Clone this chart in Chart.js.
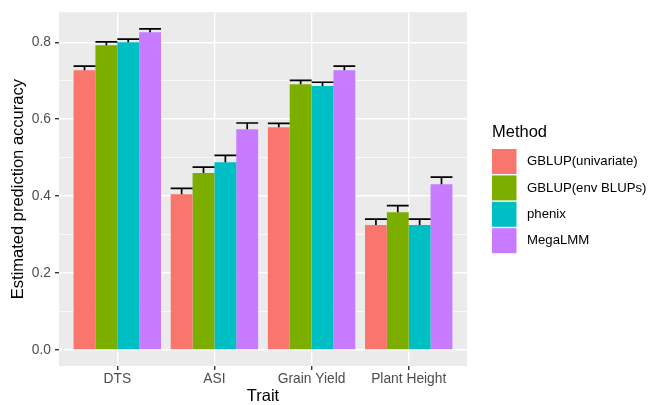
<!DOCTYPE html>
<html>
<head>
<meta charset="utf-8">
<script src="https://cdn.jsdelivr.net/npm/chart.js@4"></script>
<style>
  html, body { margin: 0; padding: 0; background: #fff; }
  #wrap { width: 652px; height: 405px; }
</style>
</head>
<body>
<div id="wrap"><canvas id="accChart" width="652" height="405"></canvas></div>
<script>
const traits = ['DTS', 'ASI', 'Grain Yield', 'Plant Height'];
const methods = ['GBLUP(univariate)', 'GBLUP(env BLUPs)', 'phenix', 'MegaLMM'];
const colors = ['#F8766D', '#7CAE00', '#00BFC4', '#C77CFF'];

// mean accuracy per trait, one array per method
const gblupUni = [0.727, 0.405, 0.579, 0.325];
const gblupEnv = [0.792, 0.460, 0.691, 0.358];
const phenix = [0.800, 0.488, 0.686, 0.325];
const megaLMM = [0.826, 0.574, 0.727, 0.431];

// standard errors
const gblupUniSE = [0.011, 0.015, 0.010, 0.015];
const gblupEnvSE = [0.009, 0.015, 0.010, 0.017];
const phenixSE = [0.008, 0.018, 0.010, 0.015];
const megaLMMSE = [0.009, 0.016, 0.011, 0.018];

const yTicks = [0, 0.2, 0.4, 0.6, 0.8];
const yGrid = [0, 0.1, 0.2, 0.3, 0.4, 0.5, 0.6, 0.7, 0.8];

const means = [gblupUni, gblupEnv, phenix, megaLMM];
const errors = [gblupUniSE, gblupEnvSE, phenixSE, megaLMMSE];

const FONT = '"Liberation Sans", Arial, sans-serif';

const isMajor = (v) => yTicks.some(t => Math.abs(t - v) < 1e-6);

const ggPlugin = {
    id: 'ggPlugin',
    beforeDraw(chart) {
        const a = chart.chartArea;
        const ctx = chart.ctx;
        ctx.save();
        ctx.fillStyle = '#EBEBEB';
        ctx.fillRect(a.left, a.top, a.right - a.left, a.bottom - a.top);
        ctx.restore();
    },
    afterDatasetsDraw(chart) {
        const ctx = chart.ctx;
        const y = chart.scales.y;
        ctx.save();
        ctx.strokeStyle = '#000';
        ctx.lineWidth = 1.7;
        chart.data.datasets.forEach((ds, di) => {
            chart.getDatasetMeta(di).data.forEach((bar, i) => {
                const top = y.getPixelForValue(means[di][i] + errors[di][i]);
                const half = bar.width / 2;
                ctx.beginPath();
                ctx.moveTo(bar.x, bar.y);
                ctx.lineTo(bar.x, top);
                ctx.moveTo(bar.x - half, top);
                ctx.lineTo(bar.x + half, top);
                ctx.stroke();
            });
        });
        ctx.restore();
    },
    afterDraw(chart) {
        const ctx = chart.ctx;
        const a = chart.chartArea;
        ctx.save();
        ctx.fillStyle = '#000';
        ctx.font = '16.5px ' + FONT;
        ctx.textAlign = 'center';
        ctx.textBaseline = 'middle';
        ctx.fillText('Trait', (a.left + a.right) / 2, 396);
        ctx.translate(18, (a.top + a.bottom) / 2);
        ctx.rotate(-Math.PI / 2);
        ctx.fillText('Estimated prediction accuracy', 0, 0);
        ctx.restore();

        // legend
        ctx.save();
        ctx.fillStyle = '#000';
        ctx.textAlign = 'left';
        ctx.textBaseline = 'middle';
        ctx.font = '16.5px ' + FONT;
        ctx.fillText('Method', 492, 132);
        ctx.font = '13.2px ' + FONT;
        methods.forEach((m, i) => {
            const ky = 149 + i * 26.4;
            ctx.fillStyle = colors[i];
            ctx.fillRect(492, ky, 24.5, 25);
            ctx.fillStyle = '#000';
            ctx.fillText(m, 527, ky + 12.5);
        });
        ctx.restore();
    }
};

const datasets = methods.map((m, di) => ({
    label: m,
    data: means[di].map((v, i) => ({ x: i, y: v })),
    backgroundColor: colors[di],
    borderWidth: 0,
    categoryPercentage: 0.9,
    barPercentage: 1.0
}));

new Chart(document.getElementById('accChart').getContext('2d'), {
    type: 'bar',
    data: { datasets: datasets },
    options: {
        responsive: false,
        animation: false,
        layout: { padding: { left: 0, top: 12, right: 185, bottom: 0 } },
        plugins: { legend: { display: false }, tooltip: { enabled: false } },
        scales: {
            x: {
                type: 'linear',
                min: -0.6,
                max: 3.6,
                offset: false,
                afterBuildTicks: (s) => { s.ticks = traits.map((t, i) => ({ value: i })); },
                afterFit: (s) => { s.height = 39; },
                border: { display: false },
                grid: {
                    offset: false,
                    color: '#FFFFFF',
                    lineWidth: 1.4,
                    tickColor: '#333333',
                    tickLength: 4,
                    drawOnChartArea: true
                },
                ticks: {
                    callback: (v) => traits[v],
                    color: '#4D4D4D',
                    font: { family: FONT, size: 13.8 },
                    padding: 1,
                    maxRotation: 0
                }
            },
            y: {
                min: -0.042,
                max: 0.878,
                afterBuildTicks: (s) => { s.ticks = yGrid.map(v => ({ value: v })); },
                afterFit: (s) => { s.width = 59; },
                border: { display: false },
                grid: {
                    color: '#FFFFFF',
                    lineWidth: (c) => (c.tick && isMajor(c.tick.value)) ? 1.4 : 0.7,
                    tickColor: (c) => (c.tick && isMajor(c.tick.value)) ? '#333333' : 'rgba(0,0,0,0)',
                    tickLength: 4
                },
                ticks: {
                    callback: (v) => isMajor(v) ? v.toFixed(1) : '',
                    color: '#4D4D4D',
                    font: { family: FONT, size: 13.8 },
                    padding: 4
                }
            }
        }
    },
    plugins: [ggPlugin]
});
</script>
</body>
</html>
